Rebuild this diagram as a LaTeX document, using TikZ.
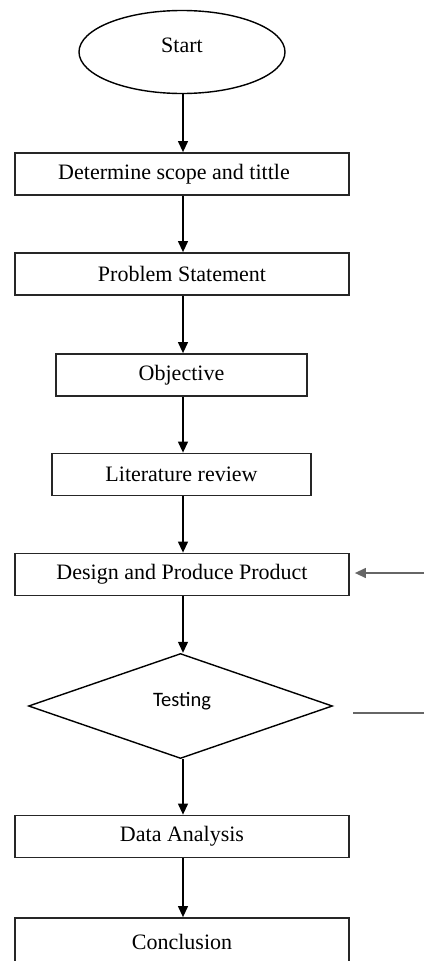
\documentclass[tikz,border=0pt]{standalone}
\usepackage{fontspec}
\setmainfont{Liberation Serif}
\newfontfamily\calibrifont{Carlito}
\usetikzlibrary{shapes.geometric,arrows.meta}
\tikzset{
  box/.style={draw=black!85,line width=1.8pt,rectangle,minimum height=42pt,inner sep=0pt,font=\fontsize{22}{26}\selectfont},
  flow/.style={draw=black,line width=1.2pt,-{Triangle[length=11pt,width=10pt]}},
  side/.style={draw=black!60,line width=1.3pt},
  txt/.style={inner sep=0pt,font=\fontsize{22}{26}\selectfont}
}
\begin{document}
\begin{tikzpicture}[x=1pt,y=-1pt]
\useasboundingbox (0,0) rectangle (424,961);
\clip (0,0) rectangle (424,961);
\node[draw=black,line width=1.4pt,ellipse,minimum width=206pt,minimum height=83pt,inner sep=0pt] (start) at (182,52) {};
\node[txt] (starttxt) at (182,45) {Start};
\node[box,minimum width=334pt] (b1) at (182,174) {\hspace*{-16pt}Determine scope and tittle};
\node[box,minimum width=334pt] (b2) at (182,274) {Problem Statement};
\node[box,minimum width=251pt] (b3) at (181.5,375) {Objective};
\node[box,minimum width=259pt] (b4) at (181.5,474.5) {Literature review};
\node[box,minimum width=334pt] (b5) at (182,574.5) {Design and Produce Product};
\node[draw=black,line width=1.4pt,diamond,minimum width=304pt,minimum height=105pt,inner sep=0pt] (dia) at (180.5,706) {};
\node[inner sep=0pt,font=\calibrifont\fontsize{20.5}{24}\selectfont] (diatxt) at (182,701) {Testing};
\node[box,minimum width=334pt] (b6) at (182,836.5) {Data Analysis};
\node[box,minimum width=334pt,minimum height=48pt] (b7) at (182,942) {Conclusion};
\draw[flow] (start.south -| 183,0) -- (b1.north -| 183,0);
\draw[flow] (b1.south -| 183,0) -- (b2.north -| 183,0);
\draw[flow] (b2.south -| 183,0) -- (b3.north -| 183,0);
\draw[flow] (b3.south -| 183,0) -- (b4.north -| 183,0);
\draw[flow] (b4.south -| 183,0) -- (b5.north -| 183,0);
\draw[flow] (b5.south -| 183,0) -- (dia.north -| 183,0);
\draw[flow] (dia.south -| 183,0) -- (b6.north -| 183,0);
\draw[flow] (b6.south -| 183,0) -- (b7.north -| 183,0);
\coordinate (rin) at (424,573);
\draw[side,-{Triangle[length=11pt,width=10pt]},draw=black!60] (rin) -- ([xshift=5pt]rin -| b5.east);
\coordinate (rout) at (424,713);
\coordinate (routstart) at (353,713);
\draw[side] (rout) -- (routstart);
\end{tikzpicture}
\end{document}
